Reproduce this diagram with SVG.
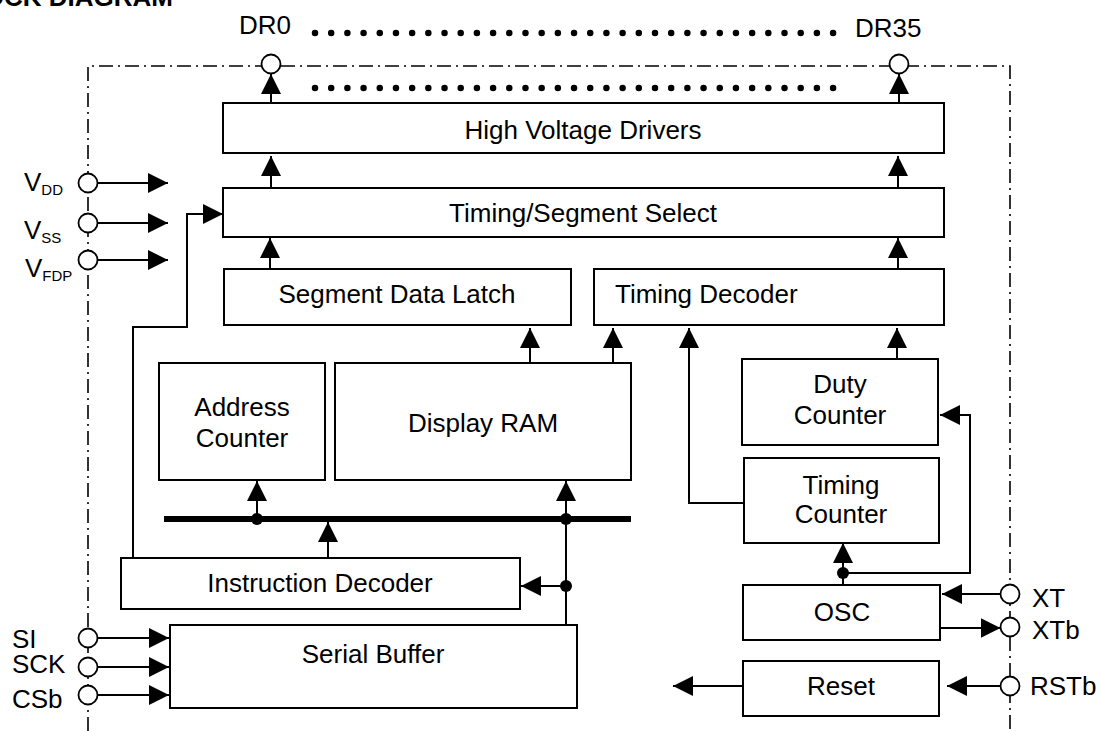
<svg xmlns="http://www.w3.org/2000/svg" width="1100" height="731" viewBox="0 0 1100 731">
<style>
text{font-family:"Liberation Sans",Arial,sans-serif;font-size:26px;fill:#000}
.box{fill:#fff;stroke:#000;stroke-width:2}
.c{text-anchor:middle}
.w{fill:none;stroke:#000;stroke-width:2}
.pin{fill:#fff;stroke:#000;stroke-width:1.8}
.dot{fill:#000}
.border{fill:none;stroke:#000;stroke-width:1.6;stroke-dasharray:14 5 2 5}
.dots{stroke:#000;stroke-width:6.5;stroke-linecap:round;stroke-dasharray:0 16.19}
</style>
<defs>
<marker id="ah" markerUnits="userSpaceOnUse" markerWidth="20" markerHeight="20" refX="20" refY="10" orient="auto" viewBox="0 0 20 20"><path d="M0,0 L20,10 L0,20 z" fill="#000"/></marker>
</defs>
<rect width="1100" height="731" fill="#fff"/>
<text x="173" y="6" font-size="28" font-weight="bold" text-anchor="end">BLOCK DIAGRAM</text>
<path class="border" d="M88,731 V66 H1010 V731"/>
<line class="dots" x1="315" y1="33" x2="836" y2="33"/>
<line class="dots" x1="315" y1="88" x2="836" y2="88"/>

<g id="connectors">
<path class="w" marker-end="url(#ah)" d="M271,103 V74"/>
<path class="w" marker-end="url(#ah)" d="M899,103 V74"/>
<path class="w" marker-end="url(#ah)" d="M271,188 V156"/>
<path class="w" marker-end="url(#ah)" d="M898,188 V156"/>
<path class="w" marker-end="url(#ah)" d="M270,269 V238"/>
<path class="w" marker-end="url(#ah)" d="M898,269 V238"/>
<path class="w" marker-end="url(#ah)" d="M530,363 V328"/>
<path class="w" marker-end="url(#ah)" d="M613,363 V328"/>
<path class="w" marker-end="url(#ah)" d="M897,359 V328"/>
<path class="w" marker-end="url(#ah)" d="M744,503 H689 V328"/>
<path class="w" marker-end="url(#ah)" d="M843,585 V543"/>
<path class="w" marker-end="url(#ah)" d="M843,573 H970 V415 H940"/>
<path class="w" marker-end="url(#ah)" d="M1000.5,594 H942"/>
<path class="w" marker-end="url(#ah)" d="M940,628 H1000.5"/>
<path class="w" marker-end="url(#ah)" d="M1000.5,686 H947"/>
<path class="w" marker-end="url(#ah)" d="M743,686 H673"/>
<path class="w" marker-end="url(#ah)" d="M97.5,183 H168"/>
<path class="w" marker-end="url(#ah)" d="M97.5,223 H168"/>
<path class="w" marker-end="url(#ah)" d="M97.5,260 H168"/>
<path class="w" marker-end="url(#ah)" d="M97.5,638 H169"/>
<path class="w" marker-end="url(#ah)" d="M97.5,667 H169"/>
<path class="w" marker-end="url(#ah)" d="M97.5,695 H169"/>
<path class="w" marker-end="url(#ah)" d="M133,558 V327 H187 V214 H223"/>
<path class="w" marker-end="url(#ah)" d="M257,519 V481"/>
<path class="w" marker-end="url(#ah)" d="M328,558 V522"/>
<path class="w" d="M566,625 V519"/>
<path class="w" marker-end="url(#ah)" d="M566,519 V481"/>
<path class="w" marker-end="url(#ah)" d="M566,586 H521"/>
<line x1="164" y1="519" x2="631" y2="519" stroke="#000" stroke-width="6"/>
<circle class="dot" cx="257" cy="519" r="6"/>
<circle class="dot" cx="566" cy="519" r="6"/>
<circle class="dot" cx="566" cy="586" r="6"/>
<circle class="dot" cx="843" cy="573" r="6"/>
</g>

<g id="pins">
<circle class="pin" cx="271" cy="64" r="9.5"/>
<circle class="pin" cx="899" cy="64" r="9.5"/>
<text x="239" y="34">DR0</text>
<text x="855" y="37">DR35</text>
<circle class="pin" cx="88" cy="183" r="9.5"/>
<circle class="pin" cx="88" cy="223" r="9.5"/>
<circle class="pin" cx="88" cy="260" r="9.5"/>
<text x="24" y="191">V<tspan font-size="15" dy="4">DD</tspan></text>
<text x="24" y="239">V<tspan font-size="15" dy="4">SS</tspan></text>
<text x="25" y="277">V<tspan font-size="15" dy="4">FDP</tspan></text>
<circle class="pin" cx="88" cy="638" r="9.5"/>
<circle class="pin" cx="88" cy="667" r="9.5"/>
<circle class="pin" cx="88" cy="695" r="9.5"/>
<text x="12" y="648">SI</text>
<text x="12" y="673">SCK</text>
<text x="12" y="708">CSb</text>
<circle class="pin" cx="1010" cy="594" r="9.5"/>
<circle class="pin" cx="1010" cy="627" r="9.5"/>
<circle class="pin" cx="1010" cy="686" r="9.5"/>
<text x="1032" y="607">XT</text>
<text x="1032" y="639">XTb</text>
<text x="1030" y="695">RSTb</text>
</g>

<g id="hvd"><rect class="box" x="223" y="103" width="721" height="50"/><text class="c" x="583" y="139">High Voltage Drivers</text></g>
<g id="tss"><rect class="box" x="223" y="188" width="721" height="49"/><text class="c" x="583" y="222">Timing/Segment Select</text></g>
<g id="sdl"><rect class="box" x="224" y="269" width="347" height="56"/><text class="c" x="397" y="303">Segment Data Latch</text></g>
<g id="td"><rect class="box" x="594" y="269" width="350" height="56"/><text x="615" y="303">Timing Decoder</text></g>
<g id="ac"><rect class="box" x="159" y="363" width="166" height="117"/><text class="c" x="242" y="416">Address</text><text class="c" x="242" y="447">Counter</text></g>
<g id="dram"><rect class="box" x="335" y="363" width="296" height="117"/><text class="c" x="483" y="432">Display RAM</text></g>
<g id="dc"><rect class="box" x="742" y="359" width="196" height="86"/><text class="c" x="840" y="393">Duty</text><text class="c" x="840" y="424">Counter</text></g>
<g id="tc"><rect class="box" x="744" y="458" width="195" height="85"/><text class="c" x="841" y="494">Timing</text><text class="c" x="841" y="523">Counter</text></g>
<g id="id"><rect class="box" x="121" y="558" width="399" height="51"/><text class="c" x="320" y="592">Instruction Decoder</text></g>
<g id="sb"><rect class="box" x="170" y="625" width="407" height="83"/><text class="c" x="373" y="663">Serial Buffer</text></g>
<g id="osc"><rect class="box" x="743" y="585" width="197" height="55"/><text class="c" x="842" y="621">OSC</text></g>
<g id="reset"><rect class="box" x="743" y="661" width="196" height="55"/><text class="c" x="841" y="695">Reset</text></g>
</svg>
